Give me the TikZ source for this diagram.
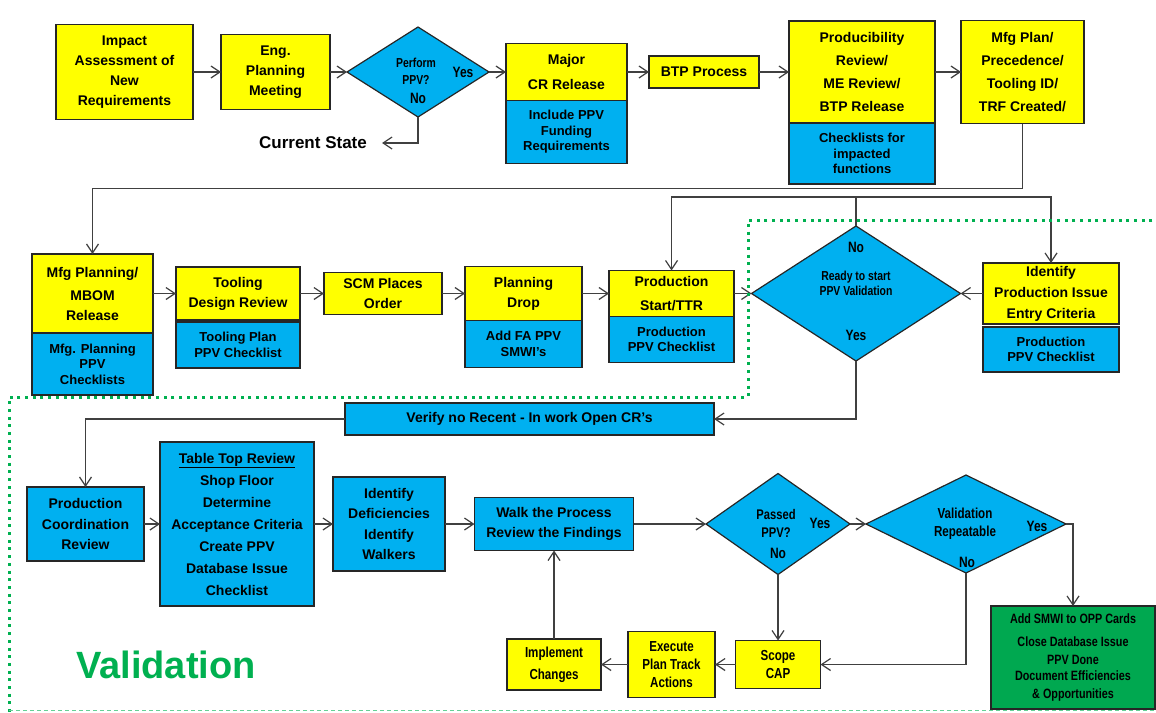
\documentclass[tikz,border=0pt]{standalone}
\usepackage{fontspec}
\setmainfont{Liberation Sans}
\newfontfamily\narrowfont[FakeStretch=0.8]{Liberation Sans}
\usetikzlibrary{shapes.geometric,arrows.meta}
\definecolor{ppvyellow}{RGB}{255,255,0}
\definecolor{ppvblue}{RGB}{0,176,240}
\definecolor{ppvgreen}{RGB}{0,176,80}
\definecolor{donegreen}{RGB}{0,168,80}
\definecolor{linegray}{RGB}{64,64,64}
\tikzset{
  ybox/.style={draw=black!85, fill=ppvyellow, line width=1.3pt, inner sep=0pt, outer sep=0pt,
    align=center, font=\bfseries\fontsize{14}{20}\selectfont},
  bbox/.style={ybox, fill=ppvblue, font=\bfseries\fontsize{13}{15.5}\selectfont},
  gbox/.style={ybox, fill=donegreen, font=\narrowfont\bfseries\fontsize{13.5}{17}\selectfont},
  capbox/.style={ybox, font=\narrowfont\bfseries\fontsize{14.5}{18}\selectfont},
  dbox/.style={diamond, draw=black!85, fill=ppvblue, line width=1.2pt, inner sep=0pt, outer sep=0pt},
  sz/.style 2 args={minimum width=#1, minimum height=#2},
  dtext/.style={inner sep=0pt, align=center, font=\narrowfont\bfseries\fontsize{13}{17}\selectfont},
  yn/.style={inner sep=0pt, font=\narrowfont\bfseries\fontsize{15}{16}\selectfont},
  flow/.style={draw=linegray, line width=1.2pt, -{Straight Barb[length=9pt,width=12pt]}},
  wire/.style={draw=linegray, line width=1.2pt},
}
\begin{document}
\begin{tikzpicture}[x=1pt,y=-1pt]
    \useasboundingbox (0,0) rectangle (1156,712);

    % current state row
    \node[ybox,sz={137}{95}] (impact) at (124.5,72) {Impact\\Assessment of\\New\\Requirements};
    \node[ybox,sz={109}{75}] (engmeet) at (275.5,72) {Eng.\\Planning\\Meeting};
    \node[dbox,sz={142}{90}] (perform) at (418,72) {};
    \node[dtext] (performtxt) at (416,71.5) {Perform\\PPV?};
    \node[yn] (performyes) at (463,72) {Yes};
    \node[yn] (performno) at (418,98) {No};
    \node[inner xsep=15pt, inner ysep=0pt, font=\bfseries\fontsize{17}{20}\selectfont] (current) at (313,143) {Current State};
    \node[ybox,sz={121}{57}] (majorcr) at (566.5,72) {Major\\[5pt]CR Release};
    \node[bbox,sz={121}{63}] (crppv) at (566.5,132) {Include PPV\\Funding\\Requirements};
    \node[ybox,sz={110}{32}] (btp) at (704,72) {BTP Process};
    \node[ybox,sz={146}{102}] (produc) at (862,72) {Producibility\\[3pt]Review/\\[3pt]ME Review/\\[3pt]BTP Release};
    \node[bbox,sz={146}{61}] (producppv) at (862,153.5) {Checklists for\\impacted\\functions};
    \node[ybox,sz={123}{103}] (mfgplan) at (1022.5,72) {Mfg Plan/\\[3pt]Precedence/\\[3pt]Tooling ID/\\[3pt]TRF Created/};

    % planning row
    \node[ybox,sz={121}{79}] (mfgplanning) at (92.5,293.5) {Mfg Planning/\\[3pt]MBOM\\Release};
    \node[bbox,sz={121}{62}] (mfgppv) at (92.5,364) {Mfg. Planning\\PPV\\Checklists};
    \node[ybox,sz={124}{53}] (tooling) at (238,293.5) {Tooling\\Design Review};
    \node[bbox,sz={124}{46}] (toolppv) at (238,345) {Tooling Plan\\PPV Checklist};
    \node[ybox,sz={118}{42}] (scm) at (383,293.5) {SCM Places\\Order};
    \node[ybox,sz={117}{54}] (pdrop) at (523.5,293.5) {Planning\\Drop};
    \node[bbox,sz={117}{47}] (pdropppv) at (523.5,344) {Add FA PPV\\SMWI’s};
    \node[ybox,sz={125}{46}] (prodstart) at (671.5,293.5) {Production\\[4pt]Start/TTR};
    \node[bbox,sz={125}{46}] (prodppv) at (671.5,339.5) {Production\\PPV Checklist};
    \node[dbox,sz={209}{135}] (ready) at (856,293.5) {};
    \node[dtext,font=\narrowfont\bfseries\fontsize{13}{15.5}\selectfont] (readytxt) at (856,283.5) {Ready to start\\PPV Validation};
    \node[yn] (readyno) at (856,247) {No};
    \node[yn] (readyyes) at (856,335) {Yes};
    \node[ybox,sz={136}{61}] (identify) at (1051,293.5) {Identify\\[1pt]Production Issue\\[1pt]Entry Criteria};
    \node[bbox,sz={136}{45}] (identppv) at (1051,349.5) {Production\\PPV Checklist};

    % validation rows
    \node[bbox,sz={369}{32},font=\bfseries\fontsize{14}{16}\selectfont] (verify) at (529.5,419) {Verify no Recent - In work Open CR’s};
    \node[bbox,sz={117}{74},font=\bfseries\fontsize{14}{20.5}\selectfont] (pcr) at (85.5,524) {Production\\Coordination\\Review};
    \node[bbox,sz={154}{164},font=\bfseries\fontsize{14}{22}\selectfont] (tabletop) at (237,524) {\underline{Table Top Review}\\Shop Floor\\Determine\\Acceptance Criteria\\Create PPV\\Database Issue\\Checklist};
    \node[bbox,sz={112}{94},font=\bfseries\fontsize{14}{20.5}\selectfont] (identdef) at (389,524) {Identify\\Deficiencies\\Identify\\Walkers};
    \node[bbox,sz={159}{53},font=\bfseries\fontsize{14}{20}\selectfont] (walk) at (554,524) {Walk the Process\\Review the Findings};
    \node[dbox,sz={144}{101}] (passed) at (778,524) {};
    \node[dtext,font=\narrowfont\bfseries\fontsize{14}{17.5}\selectfont] (passedtxt) at (776,523.5) {Passed\\PPV?};
    \node[yn] (passedyes) at (820,523) {Yes};
    \node[yn] (passedno) at (778,553) {No};
    \node[dbox,sz={200}{98}] (valid) at (966,524) {};
    \node[dtext,font=\narrowfont\bfseries\fontsize{14.5}{18}\selectfont] (validtxt) at (965,524) {Validation\\Repeatable};
    \node[yn] (validyes) at (1037,526) {Yes};
    \node[yn] (validno) at (967,562) {No};
    \node[gbox,sz={164}{103}] (addsmwi) at (1073,657.5) {Add SMWI to OPP Cards\\[6pt]Close Database Issue\\PPV Done\\Document Efficiencies\\\& Opportunities};
    \node[capbox,sz={85}{48}] (scope) at (778,664.5) {Scope\\CAP};
    \node[capbox,sz={87}{66}] (execute) at (671.5,664.5) {Execute\\Plan Track\\Actions};
    \node[capbox,sz={94}{51}] (implement) at (554,664.5) {Implement\\[4pt]Changes};
    \node[text=ppvgreen, inner sep=0pt, font=\bfseries\fontsize{38}{40}\selectfont] (validlabel) at (166,665) {Validation};

    % connectors
    \draw[flow] (impact) -- (engmeet);
    \draw[flow] (engmeet) -- (perform);
    \draw[flow] (perform.south) |- (current.east);
    \draw[flow] (perform) -- (majorcr);
    \draw[flow] (majorcr) -- (btp);
    \draw[flow] (btp) -- (produc);
    \draw[flow] (produc) -- (mfgplan);
    \draw[flow] (mfgplan.south) -- ++(0,65) -| (mfgplanning.north);

    \draw[flow] (mfgplanning) -- (tooling);
    \draw[flow] (tooling) -- (scm);
    \draw[flow] (scm) -- (pdrop);
    \draw[flow] (pdrop) -- (prodstart);
    \draw[flow] (prodstart) -- (ready);
    \draw[flow] (identify) -- (ready);
    \draw[wire] (ready.north) -- ++(0,-29) coordinate (nosplit);
    \draw[flow] (nosplit) -| (prodstart.north);
    \draw[flow] (nosplit) -| (identify.north);
    \draw[flow] (ready.south) |- (verify.east);

    \draw[flow] (verify.west) -| (pcr.north);
    \draw[flow] (pcr) -- (tabletop);
    \draw[flow] (tabletop) -- (identdef);
    \draw[flow] (identdef) -- (walk);
    \draw[flow] (walk) -- (passed);
    \draw[flow] (passed) -- (valid);
    \draw[flow] (valid.east) -| (addsmwi.north);
    \draw[flow] (passed) -- (scope);
    \draw[flow] (valid.south) |- (scope.east);
    \draw[flow] (scope) -- (execute);
    \draw[flow] (execute) -- (implement);
    \draw[flow] (implement) -- (walk);

    % validation boundary
    \draw[ppvgreen, line width=3pt, dash pattern=on 3pt off 4.7pt] (1160,220) -- (748,220) -- (748,397) -- (9,397) -- (9,712);
    \draw[ppvgreen!60, line width=1.2pt, dash pattern=on 4pt off 3pt] (9,710.5) -- (1156,710.5);
\end{tikzpicture}
\end{document}
